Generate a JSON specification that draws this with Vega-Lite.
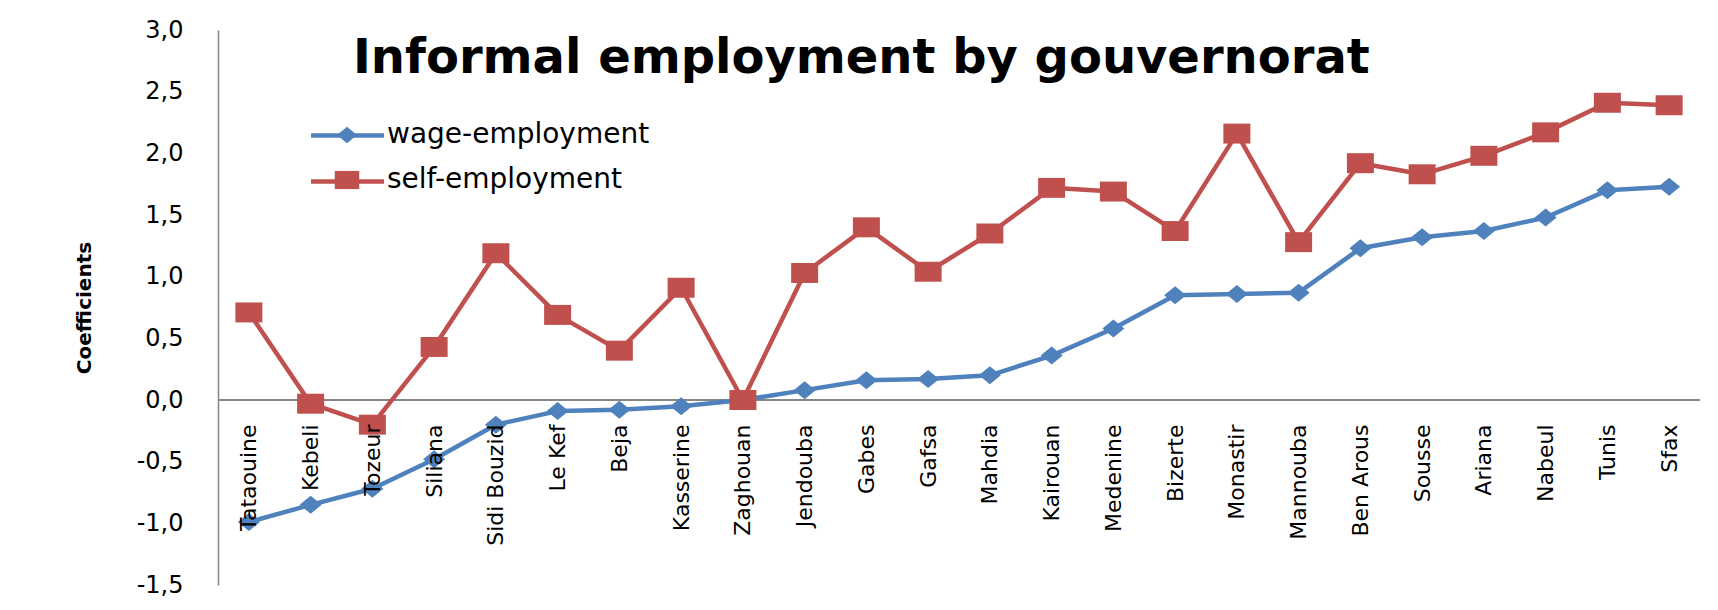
{
  "$schema": "https://vega.github.io/schema/vega-lite/v6.json",
  "autosize": {"type": "none"},
  "padding": {"left": 218, "top": 30, "right": 18, "bottom": 25},
  "width": 1482,
  "height": 555,
  "background": "white",
  "title": {
    "text": "Informal employment by gouvernorat",
    "font": "DejaVu Sans",
    "fontSize": 48,
    "fontWeight": "bold",
    "color": "#000000",
    "anchor": "start",
    "frame": "group",
    "baseline": "alphabetic",
    "offset": 0,
    "dx": 135,
    "dy": 103
  },
  "config": {
    "view": {"stroke": null},
    "font": "DejaVu Sans"
  },
  "resolve": {"legend": {"color": "independent", "shape": "independent"}},
  "data": {
    "values": [
      {"i": 1, "g": "Tataouine", "s": "wage-employment", "v": -0.99},
      {"i": 2, "g": "Kebeli", "s": "wage-employment", "v": -0.85},
      {"i": 3, "g": "Tozeur", "s": "wage-employment", "v": -0.72},
      {"i": 4, "g": "Siliana", "s": "wage-employment", "v": -0.48},
      {"i": 5, "g": "Sidi Bouzid", "s": "wage-employment", "v": -0.2},
      {"i": 6, "g": "Le Kef", "s": "wage-employment", "v": -0.09},
      {"i": 7, "g": "Beja", "s": "wage-employment", "v": -0.08},
      {"i": 8, "g": "Kasserine", "s": "wage-employment", "v": -0.05},
      {"i": 9, "g": "Zaghouan", "s": "wage-employment", "v": 0.0},
      {"i": 10, "g": "Jendouba", "s": "wage-employment", "v": 0.08},
      {"i": 11, "g": "Gabes", "s": "wage-employment", "v": 0.16},
      {"i": 12, "g": "Gafsa", "s": "wage-employment", "v": 0.17},
      {"i": 13, "g": "Mahdia", "s": "wage-employment", "v": 0.2},
      {"i": 14, "g": "Kairouan", "s": "wage-employment", "v": 0.36},
      {"i": 15, "g": "Medenine", "s": "wage-employment", "v": 0.58},
      {"i": 16, "g": "Bizerte", "s": "wage-employment", "v": 0.85},
      {"i": 17, "g": "Monastir", "s": "wage-employment", "v": 0.86},
      {"i": 18, "g": "Mannouba", "s": "wage-employment", "v": 0.87},
      {"i": 19, "g": "Ben Arous", "s": "wage-employment", "v": 1.23},
      {"i": 20, "g": "Sousse", "s": "wage-employment", "v": 1.32},
      {"i": 21, "g": "Ariana", "s": "wage-employment", "v": 1.37},
      {"i": 22, "g": "Nabeul", "s": "wage-employment", "v": 1.48},
      {"i": 23, "g": "Tunis", "s": "wage-employment", "v": 1.7},
      {"i": 24, "g": "Sfax", "s": "wage-employment", "v": 1.73},
      {"i": 1, "g": "Tataouine", "s": "self-employment", "v": 0.71},
      {"i": 2, "g": "Kebeli", "s": "self-employment", "v": -0.03},
      {"i": 3, "g": "Tozeur", "s": "self-employment", "v": -0.2},
      {"i": 4, "g": "Siliana", "s": "self-employment", "v": 0.43},
      {"i": 5, "g": "Sidi Bouzid", "s": "self-employment", "v": 1.19},
      {"i": 6, "g": "Le Kef", "s": "self-employment", "v": 0.69},
      {"i": 7, "g": "Beja", "s": "self-employment", "v": 0.4},
      {"i": 8, "g": "Kasserine", "s": "self-employment", "v": 0.91},
      {"i": 9, "g": "Zaghouan", "s": "self-employment", "v": 0.0},
      {"i": 10, "g": "Jendouba", "s": "self-employment", "v": 1.03},
      {"i": 11, "g": "Gabes", "s": "self-employment", "v": 1.4},
      {"i": 12, "g": "Gafsa", "s": "self-employment", "v": 1.04},
      {"i": 13, "g": "Mahdia", "s": "self-employment", "v": 1.35},
      {"i": 14, "g": "Kairouan", "s": "self-employment", "v": 1.72},
      {"i": 15, "g": "Medenine", "s": "self-employment", "v": 1.69},
      {"i": 16, "g": "Bizerte", "s": "self-employment", "v": 1.37},
      {"i": 17, "g": "Monastir", "s": "self-employment", "v": 2.16},
      {"i": 18, "g": "Mannouba", "s": "self-employment", "v": 1.28},
      {"i": 19, "g": "Ben Arous", "s": "self-employment", "v": 1.92},
      {"i": 20, "g": "Sousse", "s": "self-employment", "v": 1.83},
      {"i": 21, "g": "Ariana", "s": "self-employment", "v": 1.98},
      {"i": 22, "g": "Nabeul", "s": "self-employment", "v": 2.17},
      {"i": 23, "g": "Tunis", "s": "self-employment", "v": 2.41},
      {"i": 24, "g": "Sfax", "s": "self-employment", "v": 2.39}
    ]
  },
  "layer": [
    {
      "mark": {"type": "rule", "color": "#868686", "strokeWidth": 1.5},
      "encoding": {
        "y": {
          "datum": 0,
          "type": "quantitative",
          "scale": {"domain": [-1.5, 3.0], "nice": false, "zero": false},
          "axis": {
            "title": "Coefficients",
            "titleFont": "DejaVu Sans",
            "titleFontSize": 20,
            "titleFontWeight": "bold",
            "titleColor": "#000000",
            "titlePadding": 42,
            "values": [-1.5, -1, -0.5, 0, 0.5, 1, 1.5, 2, 2.5, 3],
            "labelExpr": "(datum.value < 0 ? '-' : '') + replace(format(abs(datum.value), '.1f'), '.', ',')",
            "labelFont": "DejaVu Sans",
            "labelFontSize": 24,
            "labelColor": "#000000",
            "labelPadding": 35,
            "ticks": false,
            "grid": false,
            "domainColor": "#868686",
            "domainWidth": 1.5
          }
        }
      }
    },
    {
      "mark": {"type": "line", "strokeWidth": 4.5, "strokeJoin": "round", "strokeCap": "round"},
      "encoding": {
        "x": {
          "field": "g",
          "type": "nominal",
          "sort": ["Tataouine", "Kebeli", "Tozeur", "Siliana", "Sidi Bouzid", "Le Kef", "Beja", "Kasserine", "Zaghouan", "Jendouba", "Gabes", "Gafsa", "Mahdia", "Kairouan", "Medenine", "Bizerte", "Monastir", "Mannouba", "Ben Arous", "Sousse", "Ariana", "Nabeul", "Tunis", "Sfax"],
          "scale": {"type": "point", "padding": 0.5},
          "axis": {
            "title": null,
            "offset": -185,
            "domain": false,
            "ticks": false,
            "grid": false,
            "labelAngle": -90,
            "labelAlign": "right",
            "labelBaseline": "middle",
            "labelFont": "DejaVu Sans",
            "labelFontSize": 22,
            "labelColor": "#000000",
            "labelPadding": 24,
            "labelOverlap": false,
            "zindex": 1
          }
        },
        "y": {
          "field": "v",
          "type": "quantitative",
          "axis": {
            "title": "Coefficients",
            "titleFont": "DejaVu Sans",
            "titleFontSize": 20,
            "titleFontWeight": "bold",
            "titleColor": "#000000",
            "titlePadding": 42,
            "values": [-1.5, -1, -0.5, 0, 0.5, 1, 1.5, 2, 2.5, 3],
            "labelExpr": "(datum.value < 0 ? '-' : '') + replace(format(abs(datum.value), '.1f'), '.', ',')",
            "labelFont": "DejaVu Sans",
            "labelFontSize": 24,
            "labelColor": "#000000",
            "labelPadding": 35,
            "ticks": false,
            "grid": false,
            "domainColor": "#868686",
            "domainWidth": 1.5
          }
        },
        "color": {
          "field": "s",
          "type": "nominal",
          "scale": {"domain": ["wage-employment", "self-employment"], "range": ["#4F81BD", "#C0504D"]},
          "legend": {
            "title": null,
            "orient": "none",
            "legendX": 115,
            "legendY": 91,
            "direction": "vertical",
            "columns": 1,
            "padding": 0,
            "labelFont": "DejaVu Sans",
            "labelFontSize": 28,
            "labelLimit": 0,
            "labelOpacity": 0,
            "labelOffset": 26,
            "symbolType": "M-2.98,0L2.98,0",
            "symbolSize": 600,
            "symbolStrokeWidth": 4.5,
            "rowPadding": 17,
            "zindex": 1
          }
        },
        "order": {"field": "i", "type": "quantitative"}
      }
    },
    {
      "mark": {"type": "point", "filled": true, "opacity": 1, "size": 729},
      "encoding": {
        "x": {
          "field": "g",
          "type": "nominal",
          "sort": ["Tataouine", "Kebeli", "Tozeur", "Siliana", "Sidi Bouzid", "Le Kef", "Beja", "Kasserine", "Zaghouan", "Jendouba", "Gabes", "Gafsa", "Mahdia", "Kairouan", "Medenine", "Bizerte", "Monastir", "Mannouba", "Ben Arous", "Sousse", "Ariana", "Nabeul", "Tunis", "Sfax"]
        },
        "y": {"field": "v", "type": "quantitative"},
        "color": {
          "field": "s",
          "type": "nominal",
          "legend": {
            "title": null,
            "orient": "none",
            "legendX": 115,
            "legendY": 91,
            "direction": "vertical",
            "columns": 1,
            "padding": 0,
            "labelFont": "DejaVu Sans",
            "labelFontSize": 28,
            "labelLimit": 0,
            "labelColor": "#000000",
            "labelOffset": 26,
            "symbolSize": 600,
            "rowPadding": 17,
            "zindex": 2
          }
        },
        "shape": {
          "field": "s",
          "type": "nominal",
          "scale": {"domain": ["wage-employment", "self-employment"], "range": ["M-0.815,0L0,-0.667L0.815,0L0,0.667Z", "M-1,-0.74L1,-0.74L1,0.74L-1,0.74Z"]},
          "legend": {
            "title": null,
            "orient": "none",
            "legendX": 115,
            "legendY": 91,
            "direction": "vertical",
            "columns": 1,
            "padding": 0,
            "labelFont": "DejaVu Sans",
            "labelFontSize": 28,
            "labelLimit": 0,
            "labelColor": "#000000",
            "labelOffset": 26,
            "symbolSize": 600,
            "rowPadding": 17,
            "zindex": 2
          }
        }
      }
    }
  ]
}
